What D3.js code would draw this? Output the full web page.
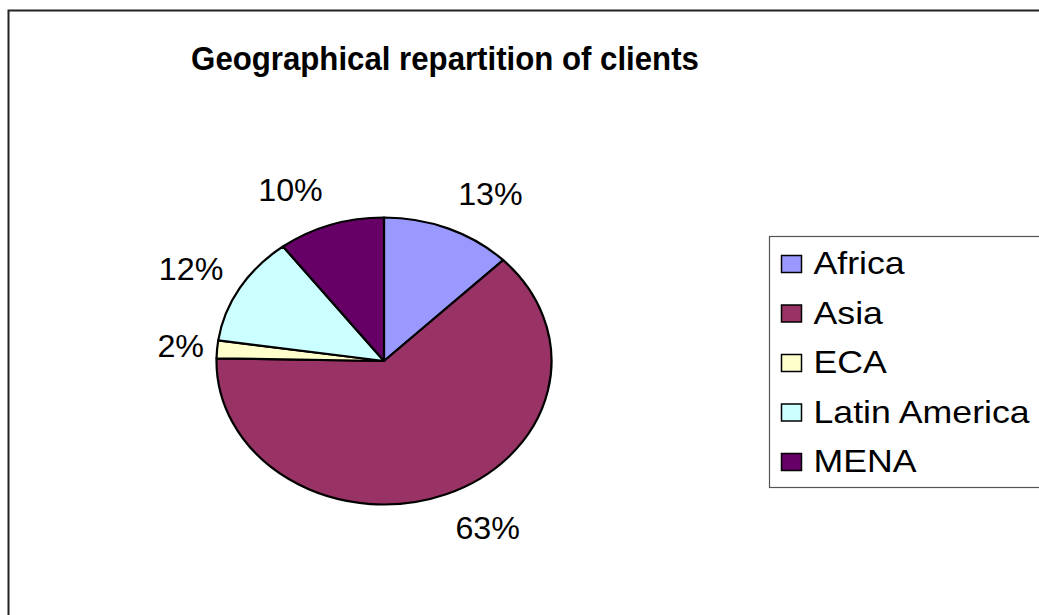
<!DOCTYPE html>
<html>
<head>
<meta charset="utf-8">
<title>Geographical repartition of clients</title>
<script src="https://cdn.jsdelivr.net/npm/d3@7"></script>
<style>
  html, body { margin: 0; padding: 0; background: #fff; }
  svg { display: block; font-family: "Liberation Sans", Arial, sans-serif; }
</style>
</head>
<body>
<svg id="chart"></svg>
<script>
const width = 1039;
const height = 615;

// data (share of clients per region)
const regions = ["Africa", "Asia", "ECA", "Latin America", "MENA"];
const shares = [12.6, 62.7, 2.0, 12.4, 10.3];
const colors = ["#9999FF", "#993366", "#FFFFCC", "#CCFFFF", "#660066"];
const title = "Geographical repartition of clients";

const data = regions.map((name, i) => ({ name, value: shares[i], color: colors[i] }));

const svg = d3.select("#chart")
  .attr("width", width)
  .attr("height", height)
  .attr("viewBox", [0, 0, width, height]);

// --- 1. Chart area border (runs off the right and bottom edges) ---
svg.append("rect")
  .attr("x", 8.5)
  .attr("y", 10.5)
  .attr("width", width + 20)
  .attr("height", height + 20)
  .attr("fill", "#fff")
  .attr("stroke", "#222")
  .attr("stroke-width", 2);

// --- 2. Title ---
svg.append("text")
  .attr("transform", "translate(445,70) scale(0.96,1)")
  .attr("text-anchor", "middle")
  .attr("font-size", 32.5)
  .attr("font-weight", "bold")
  .text(title);

// --- 3. Pie (drawn as a circle, stretched to an ellipse) ---
const cx = 384, cy = 361;
const rx = 167.5, ry = 143.5;
const sx = rx / ry;

const pie = d3.pie()
  .sort(null)
  .value(d => d.value);

const arc = d3.arc()
  .innerRadius(0)
  .outerRadius(ry);

const arcs = pie(data);

const pieGroup = svg.append("g")
  .attr("transform", `translate(${cx},${cy}) scale(${sx},1)`);

pieGroup.selectAll("path")
  .data(arcs)
  .join("path")
  .attr("d", arc)
  .attr("fill", d => d.data.color)
  .attr("stroke", "#000")
  .attr("stroke-width", 2.2)
  .attr("vector-effect", "non-scaling-stroke")
  .attr("stroke-linejoin", "round");

// --- 4. Percentage labels, placed just outside the ellipse ---
const total = d3.sum(shares);
const pct = v => Math.round(v / total * 100) + "%";

svg.selectAll(".pie-label")
  .data(arcs)
  .join("text")
  .attr("class", "pie-label")
  .attr("font-size", 31)
  .attr("dominant-baseline", "central")
  .attr("text-anchor", d => {
    const a = (d.startAngle + d.endAngle) / 2;
    return Math.sin(a) >= 0 ? "start" : "end";
  })
  .attr("transform", d => {
    const a = (d.startAngle + d.endAngle) / 2;
    const rX = rx + 12 + 14 * Math.abs(Math.cos(a));
    const x = cx + rX * Math.sin(a);
    const y = cy - (ry + 37) * Math.cos(a);
    return `translate(${x},${y}) scale(1.04,1)`;
  })
  .text(d => pct(d.data.value));

// --- 5. Legend ---
const legendX = 769.5, legendY = 236.5;
const itemStep = 49.5;

const legend = svg.append("g")
  .attr("class", "legend")
  .attr("transform", `translate(${legendX},${legendY})`);

legend.append("rect")
  .attr("width", 300)
  .attr("height", 251)
  .attr("fill", "#fff")
  .attr("stroke", "#555")
  .attr("stroke-width", 1.2);

const items = legend.selectAll(".item")
  .data(data)
  .join("g")
  .attr("class", "item")
  .attr("transform", (d, i) => `translate(0,${27 + i * itemStep})`);

items.append("rect")
  .attr("x", 12)
  .attr("y", -8)
  .attr("width", 20)
  .attr("height", 17)
  .attr("fill", d => d.color)
  .attr("stroke", "#000")
  .attr("stroke-width", 1.5);

items.append("text")
  .attr("transform", "translate(44,0) scale(1.17,1)")
  .attr("dominant-baseline", "central")
  .attr("font-size", 30.5)
  .text(d => d.name);
</script>
</body>
</html>
